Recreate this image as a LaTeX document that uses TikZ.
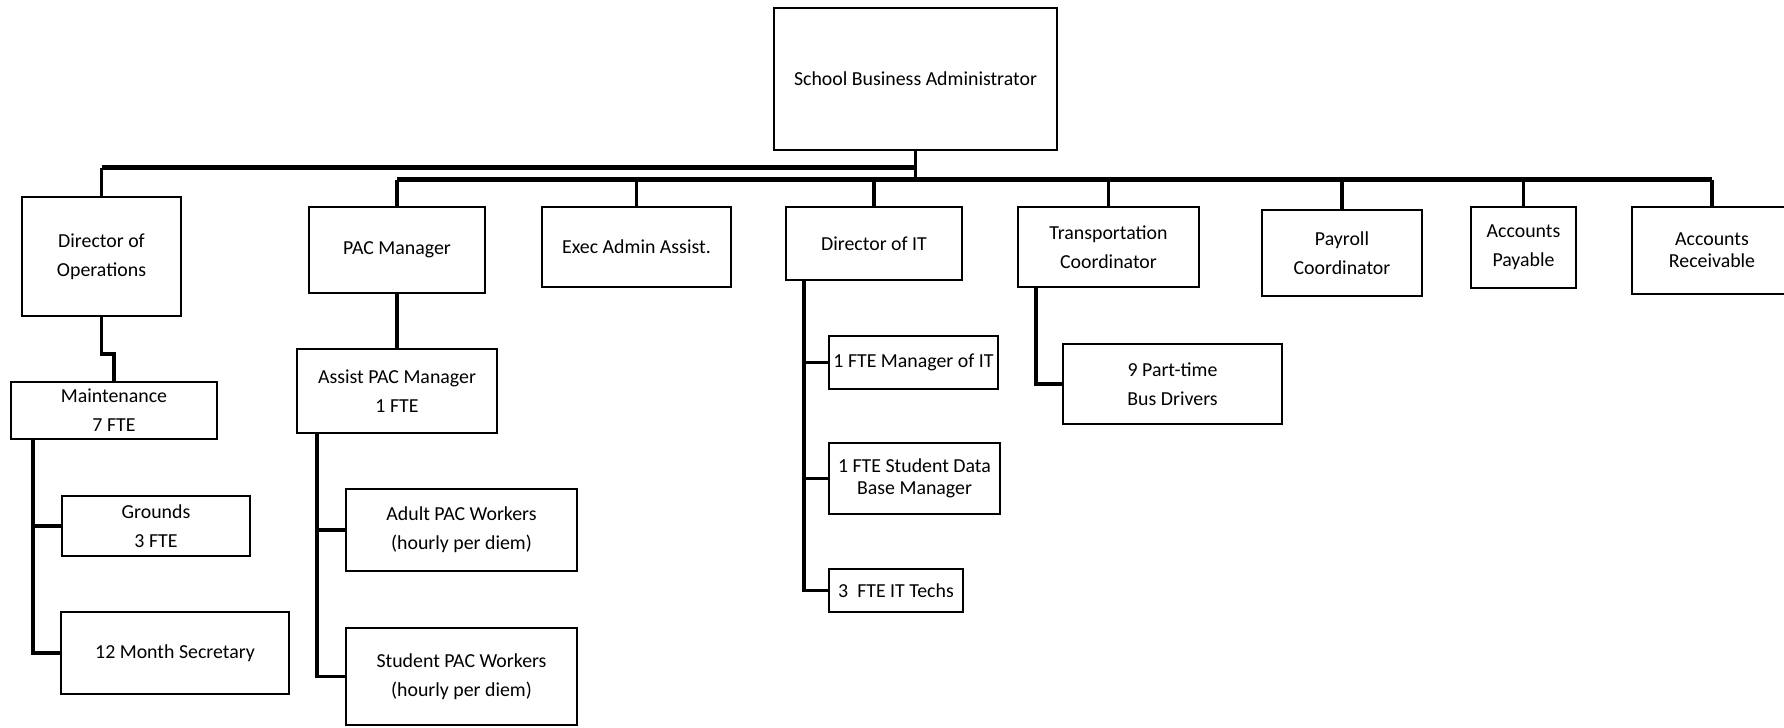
\documentclass[tikz,border=0pt]{standalone}
\usepackage{fontspec}
\setmainfont{Carlito}
\usetikzlibrary{positioning,calc}

\begin{document}
\begin{tikzpicture}[
  x=0.02cm, y=-0.02cm,
  box/.style={
    draw,
    line width=0.8pt,
    inner sep=0pt,
    align=center,
    font=\fontsize{11.3}{16.5}\selectfont,
  },
  tight box/.style={
    box,
    font=\fontsize{11.3}{12.5}\selectfont,
  },
  link/.style={line width=2.2pt},
  bus/.style={line width=2.8pt},
  ]
  \useasboundingbox (0,0) rectangle (1784,727);

  % top
  \node[box,minimum width=5.66cm,minimum height=2.84cm] (sba) at (915.5,79) {School Business Administrator};

  % second row
  \node[box,minimum width=3.18cm,minimum height=2.38cm] (dirops) at (101.5,256.5) {Director of\\Operations};
  \node[box,minimum width=3.52cm,minimum height=1.72cm] (pacmgr) at (397,250) {PAC Manager};
  \node[box,minimum width=3.78cm,minimum height=1.60cm] (exec) at (636.5,247) {Exec Admin Assist.};
  \node[box,minimum width=3.52cm,minimum height=1.46cm] (dirit) at (874,243.5) {Director of IT};
  \node[box,minimum width=3.62cm,minimum height=1.60cm] (transp) at (1108.5,247) {Transportation\\Coordinator};
  \node[box,minimum width=3.20cm,minimum height=1.72cm] (payroll) at (1342,253) {Payroll\\Coordinator};
  \node[box,minimum width=2.10cm,minimum height=1.62cm] (ap) at (1523.5,247.5) {Accounts\\Payable};
  \node[tight box,minimum width=3.20cm,minimum height=1.74cm] (ar) at (1712,250.5) {Accounts\\Receivable};

  % operations
  \node[box,minimum width=4.12cm,minimum height=1.14cm] (maint) at (114,410.5) {Maintenance\\7 FTE};
  \node[box,minimum width=3.76cm,minimum height=1.20cm] (grounds) at (156,526) {Grounds\\3 FTE};
  \node[box,minimum width=4.56cm,minimum height=1.64cm] (secr) at (175,653) {12 Month Secretary};

  % PAC
  \node[box,minimum width=4.00cm,minimum height=1.68cm] (assist) at (397,391) {Assist PAC Manager\\1 FTE};
  \node[box,minimum width=4.62cm,minimum height=1.64cm] (adult) at (461.5,530) {Adult PAC Workers\\(hourly per diem)};
  \node[box,minimum width=4.62cm,minimum height=1.94cm] (student) at (461.5,676.5) {Student PAC Workers\\(hourly per diem)};

  % IT
  \node[box,minimum width=3.38cm,minimum height=1.06cm] (mgrit) at (913.5,362.5) {1 FTE Manager of IT};
  \node[tight box,minimum width=3.42cm,minimum height=1.42cm] (sdb) at (914.5,478.5) {1 FTE Student Data\\Base Manager};
  \node[box,minimum width=2.68cm,minimum height=0.86cm] (techs) at (896,590.5) {3~~FTE IT Techs};

  % transportation
  \node[box,minimum width=4.38cm,minimum height=1.60cm] (drivers) at (1172.5,384) {9 Part-time\\Bus Drivers};

  % buses
  \coordinate (hubA) at ($(sba.south)+(0,17)$);
  \coordinate (hubB) at ($(sba.south)+(0,29)$);
  \draw[link] (sba.south) -- (hubB);
  \draw[bus] (dirops.north |- hubA) -- (hubA);
  \draw[bus] (pacmgr.north |- hubB) -- (ar.north |- hubB);
  \draw[link] (dirops.north) -- (dirops.north |- hubA);
  \foreach \n in {pacmgr,exec,dirit,transp,payroll,ap,ar}
    \draw[link] (\n.north) -- (\n.north |- hubB);

  % branches
  \draw[link] (dirops.south) -- ++(0,37) -| (maint.north);
  \coordinate (opsspine) at ($(maint.south west)+(23,0)$);
  \draw[link] (opsspine) |- (secr.west);
  \draw[link] (opsspine |- grounds.west) -- (grounds.west);

  \draw[link] (pacmgr.south) -- (assist.north);
  \coordinate (pacspine) at ($(assist.south west)+(21,0)$);
  \draw[link] (pacspine) |- (student.west);
  \draw[link] (pacspine |- adult.west) -- (adult.west);

  \coordinate (itspine) at ($(dirit.south west)+(19,0)$);
  \draw[link] (itspine) |- (techs.west);
  \draw[link] (itspine |- mgrit.west) -- (mgrit.west);
  \draw[link] (itspine |- sdb.west) -- (sdb.west);

  \coordinate (trspine) at ($(transp.south west)+(19,0)$);
  \draw[link] (trspine) |- (drivers.west);
\end{tikzpicture}
\end{document}
